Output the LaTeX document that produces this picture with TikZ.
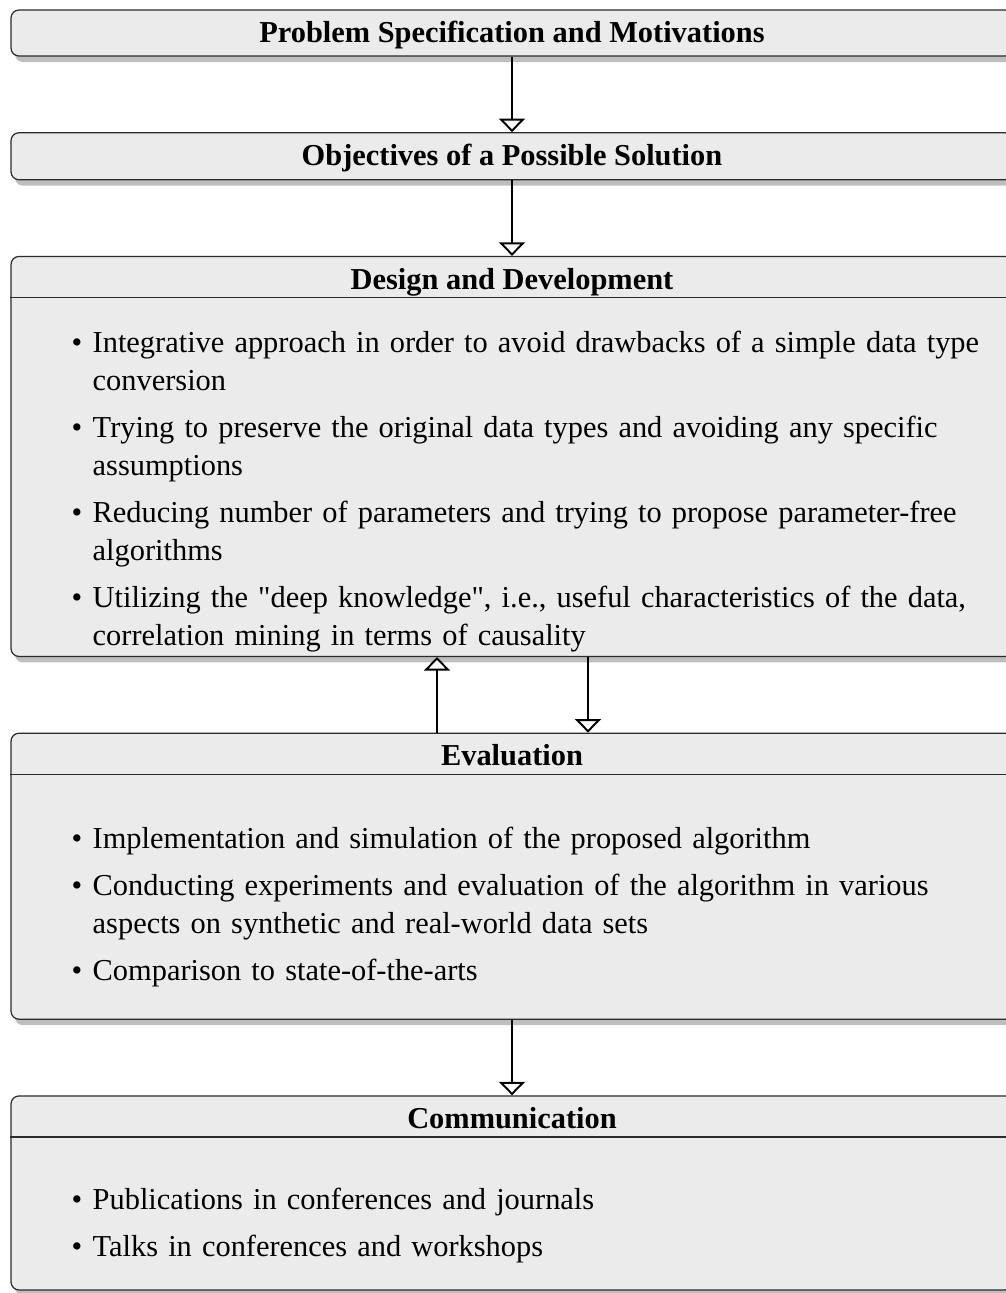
\documentclass[tikz,border=0pt]{standalone}
\usepackage{fontspec}
\setmainfont{Liberation Serif}
\usetikzlibrary{arrows.meta,calc,positioning,shadows}
\definecolor{BoxFill}{HTML}{EBEBEB}
\definecolor{Shade}{HTML}{BEBEBE}
\definecolor{Edge}{HTML}{2B2B2B}
\newcommand{\diagfont}{\fontsize{17.3}{21.6}\selectfont}
\newcommand{\litem}[1]{\par\hangindent=0.42cm\hangafter=1\noindent\makebox[0.42cm][l]{\textbullet}#1\par}
\tikzset{stage/.style={rectangle,rounded corners=0.16cm,draw=Edge,line width=0.7pt,fill=BoxFill,minimum width=20.04cm,inner sep=0pt,drop shadow={shadow xshift=0.08cm,shadow yshift=-0.12cm,fill=Shade,opacity=1}},title/.style={font=\diagfont\bfseries,text height=12pt,text depth=1.5pt},head/.style={font=\diagfont\bfseries,minimum height=0.82cm,inner sep=0pt,text height=14pt,text depth=0pt},items/.style={font=\diagfont,text width=19cm,align=left,inner sep=0pt,anchor=west,execute at begin node={\setlength{\parskip}{0.18cm}}},flow/.style={-{Triangle[length=0.27cm,width=0.52cm,fill=white]},line width=1.1pt,draw=black},rule/.style={draw=Edge,line width=0.7pt}}
\begin{document}
\begin{tikzpicture}[node distance=1.51cm]
      \useasboundingbox (0,0) rectangle (20.12,-25.86);
      \node[stage,title,minimum height=0.92cm](prob) at (10.24,-0.66){Problem Specification and Motivations};
      \node[stage,title,minimum height=0.94cm,below=of prob](obj){Objectives of a Possible Solution};
      \node[stage,minimum height=8cm,below=of obj](des){};
      \node[head,below=0cm of des.north](desHead){Design and Development};
      \draw[rule](desHead.south -| des.west)--(desHead.south -| des.east);
      \node[items](desList) at ($(desHead.south -| des.west)!0.5!(des.south west)+(1.22,-0.03)$){%
        \litem{Integrative approach in order to avoid drawbacks of a simple data type\newline conversion}
        \litem{Trying to preserve the original data types and avoiding any specific\newline assumptions}
        \litem{Reducing number of parameters and trying to propose parameter-free\newline algorithms}
        \litem{Utilizing the \textquotedbl deep knowledge\textquotedbl, i.e., useful characteristics of the data,\newline correlation mining in terms of causality}};
      \node[stage,minimum height=5.72cm,below=of des](eval){};
      \node[head,below=0cm of eval.north](evalHead){Evaluation};
      \draw[rule](evalHead.south -| eval.west)--(evalHead.south -| eval.east);
      \node[items](evalList) at ($(evalHead.south -| eval.west)!0.5!(eval.south west)+(1.22,0.05)$){%
        \litem{Implementation and simulation of the proposed algorithm}
        \litem{Conducting experiments and evaluation of the algorithm in various\newline aspects on synthetic and real-world data sets}
        \litem{Comparison to state-of-the-arts}};
      \node[stage,minimum height=3.88cm,below=of eval](comm){};
      \node[head,below=0cm of comm.north](commHead){Communication};
      \draw[rule](commHead.south -| comm.west)--(commHead.south -| comm.east);
      \node[items](commList) at ($(commHead.south -| comm.west)!0.5!(comm.south west)+(1.22,0.03)$){%
        \litem{Publications in conferences and journals}
        \litem{Talks in conferences and workshops}};
      \draw[flow](prob)--(obj);\draw[flow](obj)--(des);
      \draw[flow]([xshift=-1.5cm]eval.north)--([xshift=-1.5cm]des.south);\draw[flow]([xshift=1.52cm]des.south)--([xshift=1.52cm]eval.north);
      \draw[flow](eval)--(comm);
    \end{tikzpicture}
\end{document}
